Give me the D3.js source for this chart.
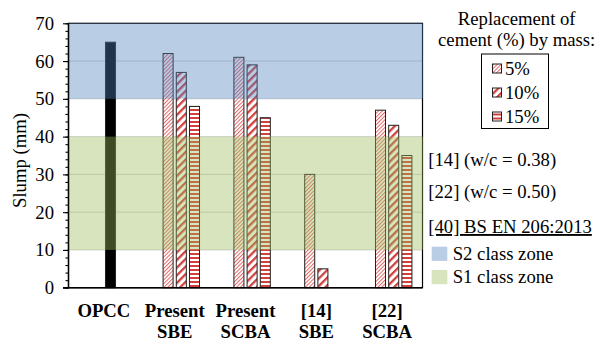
<!DOCTYPE html>
<html>
<head>
<meta charset="utf-8">
<script src="https://cdn.jsdelivr.net/npm/d3@7/dist/d3.min.js"></script>
<style>
  html, body { margin: 0; padding: 0; background: #fff; }
  svg { display: block; }
  text { font-family: "Liberation Serif", "Times New Roman", serif; fill: #000; }
</style>
</head>
<body>
<svg id="chart" width="597" height="341"></svg>
<script>
// Slump of mixes (mm) by category and replacement level
const categories = [["OPCC"], ["Present", "SBE"], ["Present", "SCBA"], ["[14]", "SBE"], ["[22]", "SCBA"]];
const opcc   = [65, null, null, null, null];
const pct5   = [null, 62, 61, 30, 47];
const pct10  = [null, 57, 59, 5, 43];
const pct15  = [null, 48, 45, null, 35];
const seriesNames = ["5%", "10%", "15%"];
const yTicks = [0, 10, 20, 30, 40, 50, 60, 70];
// BS EN 206:2013 slump class zones
const zones = [
  { name: "S1 class zone", from: 10, to: 40, color: "#9bbb59" },
  { name: "S2 class zone", from: 50, to: 70, color: "#4f81bd" }
];
const notes = ["[14] (w/c = 0.38)", "[22] (w/c = 0.50)"];

const svg = d3.select("#chart");
const FS = 18.7;
const plotL = 68.5, plotR = 422.5, plotT = 23.3, plotB = 287.7;

const x = d3.scaleBand().domain(d3.range(categories.length)).range([plotL, plotR]).padding(0);
const y = d3.scaleLinear().domain([0, 70]).range([plotB, plotT]);
// four slots inside each category; OPCC shares the 10% slot
const step = 13.2;
const slot = d3.scaleBand().domain([0, 1, 2, 3]).range([-2 * step, 2 * step])
  .paddingInner(0.24).paddingOuter(0.12);

// hatch patterns
const defs = svg.append("defs");
function diag(id, period, w, color) {
  const p = defs.append("pattern").attr("id", id).attr("patternUnits", "userSpaceOnUse")
    .attr("width", period).attr("height", period).attr("patternTransform", "rotate(45)");
  p.append("rect").attr("width", period).attr("height", period).attr("fill", "#fff");
  p.append("rect").attr("x", 0).attr("width", w).attr("height", period).attr("fill", color);
}
diag("p5", 2.7, 1.0, "#e06666");
diag("p10", 5.4, 2.3, "#d0413e");
const ph = defs.append("pattern").attr("id", "p15").attr("patternUnits", "userSpaceOnUse")
  .attr("width", 4).attr("height", 4);
ph.append("rect").attr("width", 4).attr("height", 4).attr("fill", "#fff");
ph.append("rect").attr("y", 1).attr("width", 4).attr("height", 2).attr("fill", "#d0413e");
const fills = ["url(#p5)", "url(#p10)", "url(#p15)"];

// gridlines
svg.append("g").selectAll("line").data(yTicks.filter(t => t > 0 && t < 70)).join("line")
  .attr("x1", plotL).attr("x2", plotR)
  .attr("y1", d => y(d)).attr("y2", d => y(d))
  .attr("stroke", "#d4d4d4").attr("stroke-width", 1);

// frame
svg.append("rect").attr("x", plotL).attr("y", y(70)).attr("width", plotR - plotL)
  .attr("height", y(0) - y(70)).attr("fill", "none").attr("stroke", "#000").attr("stroke-width", 1.2);

// bars
const barData = [];
categories.forEach((c, i) => {
  if (opcc[i] != null) barData.push({ i, s: 2, v: opcc[i], fill: "#000" });
  [pct5, pct10, pct15].forEach((arr, k) => {
    if (arr[i] != null) barData.push({ i, s: k + 1, v: arr[i], fill: fills[k] });
  });
});
svg.append("g").selectAll("rect").data(barData).join("rect")
  .attr("x", d => x(d.i) + x.bandwidth() / 2 + slot(d.s))
  .attr("width", slot.bandwidth())
  .attr("y", d => y(d.v))
  .attr("height", d => y(0) - y(d.v))
  .attr("fill", d => d.fill)
  .attr("stroke", "#222").attr("stroke-width", 1);

// translucent class zones drawn over the bars
svg.append("g").selectAll("rect").data(zones).join("rect")
  .attr("x", plotL).attr("width", plotR - plotL + 0.6)
  .attr("y", d => y(d.to)).attr("height", d => y(d.from) - y(d.to))
  .attr("fill", d => d.color).attr("fill-opacity", 0.4);

// y axis with minor ticks
const yAxis = svg.append("g").attr("transform", `translate(${plotL},0)`);
yAxis.call(d3.axisLeft(y).tickValues(d3.range(0, 71, 2)).tickSize(3).tickFormat(""))
  .call(g => g.select(".domain").remove());
yAxis.append("g").call(d3.axisLeft(y).tickValues(yTicks).tickSize(5.5).tickPadding(9)
  .tickFormat(d3.format("d")))
  .call(g => g.select(".domain").remove())
  .call(g => g.selectAll("text").attr("font-size", FS).attr("font-family", "Liberation Serif").attr("fill", "#000"));
yAxis.selectAll("line").attr("stroke", "#000").attr("stroke-width", 1.1);
svg.append("line").attr("x1", plotL).attr("x2", plotL).attr("y1", y(70)).attr("y2", y(0))
  .attr("stroke", "#000").attr("stroke-width", 1.4);
svg.append("line").attr("x1", plotL - 5.5).attr("x2", plotR).attr("y1", y(0)).attr("y2", y(0))
  .attr("stroke", "#000").attr("stroke-width", 1.4);

svg.append("text").attr("transform", `translate(26,160.5) rotate(-90)`)
  .attr("text-anchor", "middle").attr("font-size", FS).text("Slump (mm)");

// category labels
const cat = svg.append("g").selectAll("text").data(categories).join("text")
  .attr("text-anchor", "middle").attr("font-size", FS).attr("font-weight", "bold");
cat.each(function (lines, i) {
  const t = d3.select(this);
  lines.forEach((l, j) => t.append("tspan").attr("x", x(i) + x.bandwidth() / 2)
    .attr("y", 317 + j * 21).text(l));
});

// legend: replacement levels
svg.append("text").attr("x", 516.7).attr("y", 24.5).attr("text-anchor", "middle")
  .attr("font-size", FS).text("Replacement of");
svg.append("text").attr("x", 516.7).attr("y", 46).attr("text-anchor", "middle")
  .attr("font-size", FS).text("cement (%) by mass:");
svg.append("rect").attr("x", 481.5).attr("y", 54).attr("width", 67).attr("height", 74.5)
  .attr("fill", "#fff").attr("stroke", "#000").attr("stroke-width", 1);
const leg = svg.append("g").selectAll("g").data(seriesNames).join("g")
  .attr("transform", (d, k) => `translate(492.5,${68.5 + k * 24})`);
leg.append("rect").attr("x", 0).attr("y", -4.5).attr("width", 9).attr("height", 9)
  .attr("fill", (d, k) => fills[k]).attr("stroke", "#222").attr("stroke-width", 1);
leg.append("text").attr("x", 12.5).attr("y", 6.3).attr("font-size", FS).text(d => d);

// notes
svg.append("g").selectAll("text").data(notes).join("text")
  .attr("x", 428.3).attr("y", (d, k) => 165.5 + k * 32.5).attr("font-size", FS).text(d => d);
svg.append("text").attr("x", 428.3).attr("y", 233).attr("font-size", FS)
  .attr("text-decoration", "underline").text("[40] BS EN 206:2013");

// legend: zones
const zl = svg.append("g").selectAll("g").data(zones.slice().reverse()).join("g")
  .attr("transform", (d, k) => `translate(431.7,${246.7 + k * 23.3})`);
zl.append("rect").attr("width", 15.6).attr("height", 14.2)
  .attr("fill", d => d.color).attr("fill-opacity", 0.4);
zl.append("text").attr("x", 21).attr("y", 13).attr("font-size", FS).text(d => d.name);
</script>
</body>
</html>
